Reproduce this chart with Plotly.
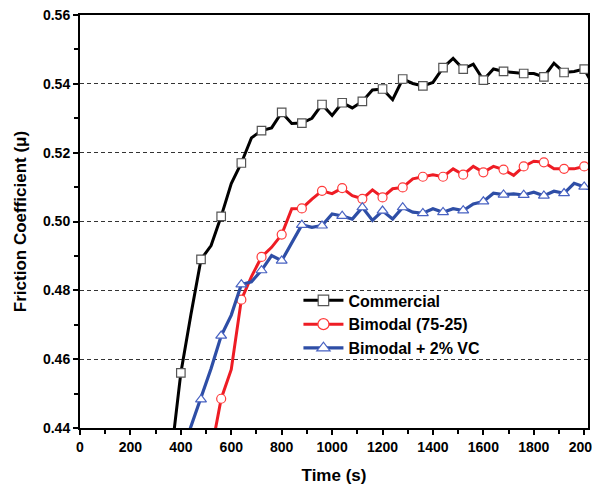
import plotly.graph_objects as go

time_s = [360, 400, 440, 480, 520, 560, 600, 640, 680, 720, 760, 800, 840, 880, 920, 960,
          1000, 1040, 1080, 1120, 1160, 1200, 1240, 1280, 1320, 1360, 1400, 1440, 1480, 1520,
          1560, 1600, 1640, 1680, 1720, 1760, 1800, 1840, 1880, 1920, 1960, 2000, 2040]

commercial = [0.431, 0.456, 0.473, 0.489, 0.493, 0.5015, 0.511, 0.517, 0.5243, 0.5264, 0.5272,
              0.5317, 0.5285, 0.5286, 0.530, 0.534, 0.5308, 0.5345, 0.533, 0.5349, 0.5382,
              0.5385, 0.5354, 0.5414, 0.5401, 0.5394, 0.5404, 0.5447, 0.5474, 0.5443, 0.5457,
              0.5411, 0.5443, 0.5436, 0.5433, 0.543, 0.543, 0.542, 0.546, 0.5433, 0.5436,
              0.5443, 0.539]

bimodal = [None, None, None, None, 0.433, 0.4485, 0.457, 0.4773, 0.484, 0.4897, 0.4925, 0.4962,
           0.5037, 0.5038, 0.5065, 0.5089, 0.5081, 0.5097, 0.5075, 0.5066, 0.5092, 0.507,
           0.5095, 0.5099, 0.5124, 0.513, 0.5136, 0.513, 0.5153, 0.5136, 0.516, 0.5143,
           0.516, 0.5151, 0.5134, 0.516, 0.5175, 0.5172, 0.5153, 0.5153, 0.5153, 0.516, 0.515]

bimodal_vc = [None, 0.432, 0.4405, 0.4483, 0.4573, 0.4668, 0.4728, 0.4817, 0.4825, 0.4858,
              0.4901, 0.4886, 0.494, 0.499, 0.4983, 0.4988, 0.5022, 0.5016, 0.5007, 0.5041,
              0.5003, 0.5031, 0.5007, 0.5041, 0.5027, 0.5024, 0.5037, 0.5027, 0.5037, 0.5032,
              0.5051, 0.5058, 0.5082, 0.5078, 0.5080, 0.5077, 0.5085, 0.5075, 0.5088, 0.5082,
              0.5111, 0.5101, 0.509]

series_names = ["Commercial", "Bimodal (75-25)", "Bimodal + 2% VC"]
x_ticks = [0, 200, 400, 600, 800, 1000, 1200, 1400, 1600, 1800, 2000]
y_ticks = [0.44, 0.46, 0.48, 0.50, 0.52, 0.54, 0.56]

styles = [
    dict(color="#000000", sym="square", mfill="white", mline="#555555", msize=8.5, lw=3),
    dict(color="#ee1c24", sym="circle", mfill="white", mline="#ff3b3b", msize=9, lw=3),
    dict(color="#2e4ea6", sym="triangle-up", mfill="white", mline="#4862c2", msize=9.5, lw=3.2),
]

fig = go.Figure()
for name, vals, st in zip(series_names, [commercial, bimodal, bimodal_vc], styles):
    fig.add_trace(go.Scatter(x=time_s, y=vals, mode="lines", showlegend=False,
                             line=dict(color=st["color"], width=st["lw"]), hoverinfo="skip"))
    mx = [t for t, v in zip(time_s, vals) if v is not None and (t - 400) % 80 == 0]
    my = [v for t, v in zip(time_s, vals) if v is not None and (t - 400) % 80 == 0]
    fig.add_trace(go.Scatter(x=mx, y=my, mode="markers", showlegend=False,
                             marker=dict(symbol=st["sym"], size=st["msize"], color=st["mfill"],
                                         line=dict(color=st["mline"], width=1.2))))
for name, st in zip(series_names, styles):
    fig.add_trace(go.Scatter(x=[None], y=[None], mode="lines+markers", name=name,
                             line=dict(color=st["color"], width=st["lw"]),
                             marker=dict(symbol=st["sym"], size=st["msize"] + 2, color=st["mfill"],
                                         line=dict(color=st["mline"], width=1.2))))

font_family = "Liberation Sans, Arial, sans-serif"
fig.update_layout(
    width=600, height=488,
    margin=dict(l=72, r=20, t=7, b=68),
    paper_bgcolor="white", plot_bgcolor="white",
    font=dict(family=font_family, color="black"),
    legend=dict(x=0.43, y=0.35, xanchor="left", yanchor="top",
                bgcolor="rgba(0,0,0,0)", font=dict(size=16, family=font_family, weight="bold"),
                tracegroupgap=0, itemwidth=40),
    xaxis=dict(range=[0, 2015], tickvals=x_ticks, showgrid=False, zeroline=False, automargin=False,
               ticklabeloverflow="allow",
               showline=True, linecolor="black", linewidth=2, mirror=True,
               ticks="outside", ticklen=5, tickwidth=1.5, tickcolor="black",
               tickfont=dict(size=14, weight="bold"),
               minor=dict(dtick=100, tick0=0, ticks="outside", ticklen=4, tickwidth=1.5,
                          tickcolor="black", showgrid=False),
               title=dict(text="Time (s)", font=dict(size=17, weight="bold"), standoff=15)),
    yaxis=dict(range=[0.44, 0.56], tickvals=y_ticks, tickformat=".2f", automargin=False,
               ticklabeloverflow="allow",
               showgrid=True, gridcolor="#333333", gridwidth=1, griddash="4px,3px",
               zeroline=False, showline=True, linecolor="black", linewidth=2, mirror=True,
               ticks="outside", ticklen=5, tickwidth=1.5, tickcolor="black",
               tickfont=dict(size=14, weight="bold"),
               minor=dict(dtick=0.01, tick0=0.44, ticks="outside", ticklen=4, tickwidth=1.5,
                          tickcolor="black", showgrid=False),
               title=dict(text="Friction Coefficient (μ)", font=dict(size=17, weight="bold"),
                          standoff=12)),
)

fig.write_html("out.html")
